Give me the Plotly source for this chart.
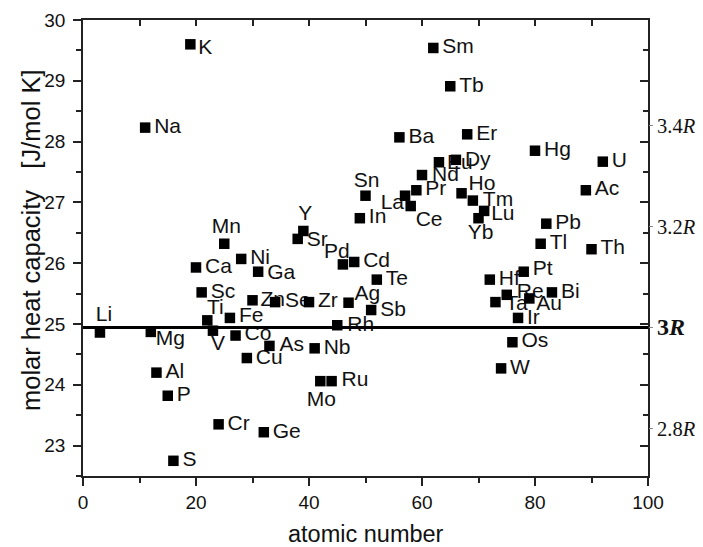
import plotly.graph_objects as go

# ---- data ----
elements = ["Li", "Na", "Mg", "Al", "P", "S", "K", "Ca", "Sc", "Ti", "V", "Cr", "Mn", "Fe", "Co",
            "Ni", "Cu", "Zn", "Ga", "Ge", "As", "Se", "Sr", "Y", "Zr", "Nb", "Mo", "Ru", "Rh",
            "Pd", "Ag", "Cd", "In", "Sn", "Sb", "Te", "Ba", "La", "Ce", "Pr", "Nd", "Sm", "Eu",
            "Tb", "Dy", "Ho", "Er", "Tm", "Yb", "Lu", "Hf", "Ta", "W", "Re", "Os", "Ir", "Pt",
            "Au", "Hg", "Tl", "Pb", "Bi", "Ac", "Th", "U"]
atomic_number = [3, 11, 12, 13, 15, 16, 19, 20, 21, 22, 23, 24, 25, 26, 27,
                 28, 29, 30, 31, 32, 33, 34, 38, 39, 40, 41, 42, 44, 45,
                 46, 47, 48, 49, 50, 51, 52, 56, 57, 58, 59, 60, 62, 63,
                 65, 66, 67, 68, 69, 70, 71, 72, 73, 74, 75, 76, 77, 78,
                 79, 80, 81, 82, 83, 89, 90, 92]
heat_capacity = [24.86, 28.23, 24.87, 24.20, 23.82, 22.75, 29.60, 25.93, 25.52, 25.06, 24.89, 23.35, 26.32, 25.10, 24.81,
                 26.07, 24.44, 25.39, 25.86, 23.22, 24.64, 25.36, 26.40, 26.53, 25.36, 24.60, 24.06, 24.06, 24.98,
                 25.98, 25.35, 26.02, 26.74, 27.11, 25.23, 25.73, 28.07, 27.11, 26.94, 27.20, 27.45, 29.54, 27.66,
                 28.91, 27.70, 27.15, 28.12, 27.03, 26.74, 26.86, 25.73, 25.36, 24.27, 25.48, 24.70, 25.10, 25.86,
                 25.42, 27.85, 26.32, 26.65, 25.52, 27.20, 26.23, 27.67]

R_GAS = 8.314
r_multiples = [2.8, 3.0, 3.2, 3.4]
r_ticktext = ["2.8<i>R</i>", "<span style='font-size:24px'><b>3<i>R</i></b></span>", "3.2<i>R</i>", "3.4<i>R</i>"]
x_ticks = [0, 20, 40, 60, 80, 100]
y_ticks = [23, 24, 25, 26, 27, 28, 29, 30]

# ---- label placement (anchor, offset x px, offset y px; y up) ----
default_pos = ("l", 9, 0)
label_pos = {
    "Li": ("c", 4, 17), "Mg": ("l", 5, -8), "K": ("l", 8, -4), "Ti": ("c", 8, 12),
    "V": ("c", 5, -14), "Mn": ("c", 2, 16), "Fe": ("l", 9, 1), "Co": ("l", 9, 1),
    "Cu": ("l", 9, -1), "Zn": ("l", 8, 0), "Ga": ("l", 9, -2), "Ge": ("l", 9, -1),
    "As": ("l", 10, 0), "Se": ("l", 10, 0), "Sr": ("l", 9, -2), "Y": ("c", 2, 16),
    "Mo": ("c", 1, -20), "Ru": ("l", 10, 0), "Rh": ("l", 10, -1), "Pd": ("c", -6, 12),
    "Ag": ("l", 6, 8), "Sn": ("c", 1, 14), "Sb": ("l", 9, -1), "La": ("r", -1, -8),
    "Ce": ("l", 5, -15), "Nd": ("l", 10, -1), "Eu": ("l", 8, -1), "Dy": ("l", 9, -1),
    "Ho": ("l", 7, 9), "Tm": ("l", 10, 0), "Yb": ("c", 2, -16), "Lu": ("l", 7, -4),
    "Ta": ("l", 10, -3), "Re": ("l", 10, 2), "Ir": ("l", 9, -1), "Pt": ("l", 9, 2),
    "Au": ("l", 7, -6), "Hf": ("l", 9, 0),
}
textpos_map = {"l": "middle right", "c": "middle center", "r": "middle left"}

SANS = "Liberation Sans, Arial, sans-serif"
SERIF = "Liberation Serif, Times New Roman, serif"
AX = "#222222"

# layout geometry (the page body adds an 8px offset, so the figure is 8px smaller)
FIG_W, FIG_H = 695, 539
M_L, M_R, M_T, M_B = 74.5, 55, 12, 71
x_range = [0, 100]
y_range = [22.5, 30]
px_per_x = (FIG_W - M_L - M_R) / (x_range[1] - x_range[0])
px_per_y = (FIG_H - M_T - M_B) / (y_range[1] - y_range[0])

lab_x, lab_y, lab_pos = [], [], []
for el, z, c in zip(elements, atomic_number, heat_capacity):
    a, dx, dy = label_pos.get(el, default_pos)
    lab_x.append(z + dx / px_per_x)
    lab_y.append(c + dy / px_per_y)
    lab_pos.append(textpos_map[a])

fig = go.Figure()
# labels first so that the square markers are drawn on top of them
fig.add_trace(go.Scatter(
    x=lab_x, y=lab_y, mode="text", text=elements, textposition=lab_pos,
    textfont=dict(family=SANS, size=21, color="#111"), showlegend=False, hoverinfo="skip",
))
fig.add_trace(go.Scatter(
    x=atomic_number, y=heat_capacity, mode="markers",
    marker=dict(symbol="square", size=10.5, color="black", line=dict(width=0)),
    showlegend=False, hoverinfo="text", text=elements,
))
# helper traces so the mirrored axes are drawn
fig.add_trace(go.Scatter(x=[None], y=[None], xaxis="x2", yaxis="y2", showlegend=False))
fig.add_trace(go.Scatter(x=[None], y=[None], xaxis="x", yaxis="y3", showlegend=False))

annotations = [
    dict(x=0.5, y=0, xref="paper", yref="paper", text="atomic number",
         showarrow=False, xanchor="center", yanchor="middle", yshift=-58,
         font=dict(family=SANS, size=23.5, color="#111")),
    dict(x=0, y=0.5, xref="paper", yref="paper",
         text="molar heat capacity   [J/mol K]", textangle=-90,
         showarrow=False, xanchor="center", yanchor="middle", xshift=-52, yshift=8,
         font=dict(family=SANS, size=25.5, color="#111")),
]

fig.update_layout(
    width=FIG_W, height=FIG_H,
    margin=dict(l=M_L, r=M_R, t=M_T, b=M_B, autoexpand=False),
    paper_bgcolor="white", plot_bgcolor="white",
    annotations=annotations,
    shapes=[dict(type="line", xref="x", yref="y", x0=x_range[0], x1=x_range[1],
                 y0=3 * R_GAS, y1=3 * R_GAS, line=dict(color="black", width=3))],
    xaxis=dict(range=x_range, tickvals=x_ticks, ticks="outside", ticklen=8, tickwidth=1.5,
               tickcolor=AX, showline=True, linecolor=AX, linewidth=1.6, showgrid=False,
               zeroline=False, tickfont=dict(family=SANS, size=19, color="#111"), automargin=False,
               minor=dict(dtick=10, tick0=0, ticks="outside", ticklen=5, tickwidth=1.5, tickcolor=AX)),
    xaxis2=dict(range=x_range, overlaying="x", side="top", anchor="y", dtick=10, tick0=0,
                ticks="inside", ticklen=6, tickwidth=1.5, tickcolor=AX, showticklabels=False,
                showline=True, linecolor=AX, linewidth=1.6, showgrid=False, zeroline=False),
    yaxis=dict(range=y_range, tickvals=y_ticks, ticks="outside", ticklen=8, tickwidth=1.5,
               tickcolor=AX, showline=True, linecolor=AX, linewidth=1.6, showgrid=False,
               zeroline=False, tickfont=dict(family=SANS, size=19, color="#111"),
               ticklabelstandoff=4, automargin=False,
               minor=dict(dtick=0.5, tick0=0, ticks="outside", ticklen=5, tickwidth=1.5, tickcolor=AX)),
    yaxis2=dict(range=y_range, overlaying="y", side="right", anchor="x2", dtick=1, tick0=0,
                ticks="inside", ticklen=8, tickwidth=1.5, tickcolor=AX, showticklabels=False,
                showline=True, linecolor=AX, linewidth=1.6, showgrid=False, zeroline=False,
                minor=dict(dtick=0.5, tick0=0, ticks="inside", ticklen=5, tickwidth=1.5, tickcolor=AX)),
    yaxis3=dict(range=y_range, overlaying="y", side="right", anchor="x",
                tickvals=[m * R_GAS for m in r_multiples], ticktext=r_ticktext,
                ticks="outside", ticklen=4, tickwidth=1, tickcolor="#888", automargin=False,
                tickfont=dict(family=SERIF, size=20.5, color="#111"),
                showline=False, showgrid=False, zeroline=False),
)

fig.write_html("out.html")
